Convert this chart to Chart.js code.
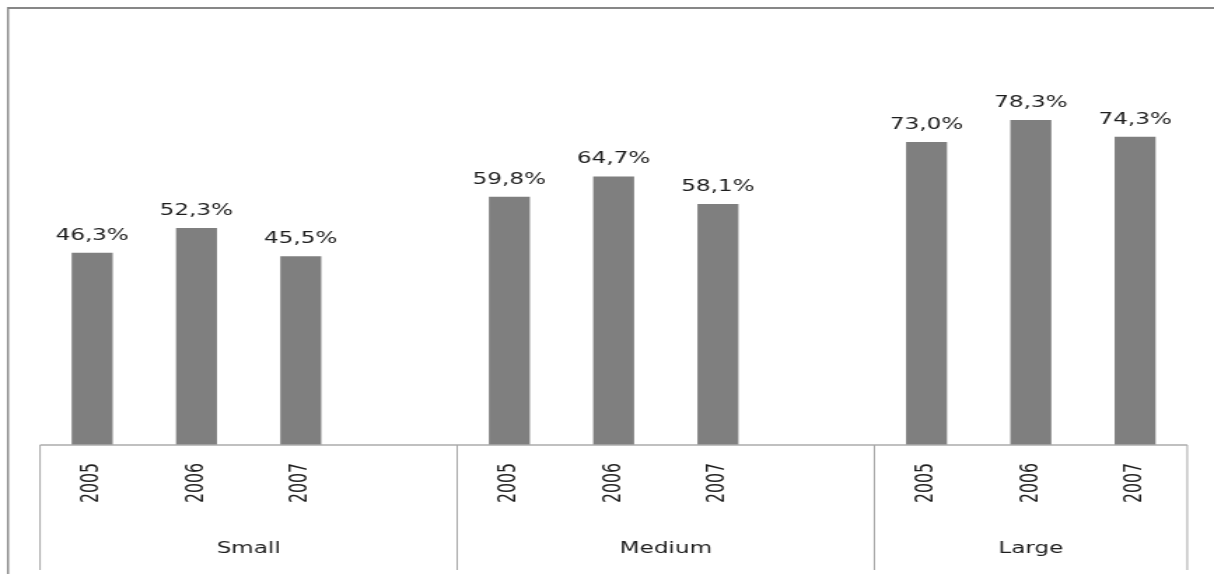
<!DOCTYPE html>
<html>
<head>
<meta charset="utf-8">
<script src="https://cdn.jsdelivr.net/npm/chart.js@4/dist/chart.umd.min.js"></script>
<style>
  html, body { margin: 0; padding: 0; background: #fff; overflow: hidden; }
</style>
</head>
<body>
<!-- the canvas is rendered narrow and widened by CSS, giving the wide lettering -->
<canvas id="c" width="867" height="574" style="display:block;width:1214px;height:574px"></canvas>
<script>
// Share of firms by size class and year (percent)
const groups = ['Small', 'Medium', 'Large'];
const years = ['2005', '2006', '2007'];
const smallShare = [46.3, 52.3, 45.5];
const mediumShare = [59.8, 64.7, 58.1];
const largeShare = [73.0, 78.3, 74.3];
const yMax = 100;

// Flatten into category slots, with an empty slot between groups
const groupValues = [smallShare, mediumShare, largeShare];
const slotLabels = [];
const slotValues = [];
const groupStart = [];
groupValues.forEach((vals, g) => {
  groupStart.push(slotLabels.length);
  years.forEach((y, i) => { slotLabels.push(y); slotValues.push(vals[i]); });
  if (g < groupValues.length - 1) { slotLabels.push(''); slotValues.push(null); }
});

const fmt = v => v.toFixed(1).replace('.', ',') + '%';

const TEXT = '#1e1e1e';
const valueFont = '16.5px "DejaVu Sans", Verdana, sans-serif';
const yearFont = '17.5px "DejaVu Sans Condensed", sans-serif';
const groupFont = '16.5px "DejaVu Sans", Verdana, sans-serif';

const decorations = {
  id: 'decorations',
  afterDatasetsDraw(chart) {
    const ctx = chart.ctx;
    const area = chart.chartArea;
    const xs = chart.scales.x;
    const n = slotLabels.length;
    const slotW = (area.right - area.left) / n;
    const axisBottom = 570;

    ctx.save();

    // outer frame (top and left edges)
    ctx.strokeStyle = '#878787';
    ctx.lineWidth = 2;
    ctx.beginPath();
    ctx.moveTo(5.7, 8);
    ctx.lineTo(chart.width, 8);
    ctx.stroke();
    ctx.lineWidth = 1.45;
    ctx.beginPath();
    ctx.moveTo(5.7, 7);
    ctx.lineTo(5.7, chart.height);
    ctx.stroke();

    // category axis line
    ctx.strokeStyle = '#ababab';
    ctx.lineWidth = 1.6;
    ctx.beginPath();
    ctx.moveTo(area.left, area.bottom);
    ctx.lineTo(area.right, area.bottom);
    ctx.stroke();

    // group separators
    ctx.lineWidth = 1;
    ctx.strokeStyle = '#a6a6a6';
    const seps = groupStart.map(s => xs.getPixelForValue(s) - slotW / 2);
    seps.push(area.right);
    seps.forEach(x => {
      ctx.beginPath();
      ctx.moveTo(x, area.bottom);
      ctx.lineTo(x, axisBottom);
      ctx.stroke();
    });

    // year labels, rotated
    ctx.fillStyle = TEXT;
    ctx.font = yearFont;
    ctx.textAlign = 'center';
    ctx.textBaseline = 'middle';
    slotLabels.forEach((lab, i) => {
      if (!lab) return;
      const x = xs.getPixelForValue(i);
      ctx.save();
      ctx.translate(x, 483);
      ctx.rotate(-Math.PI / 2);
      ctx.fillText(lab, 0, 0);
      ctx.restore();
    });

    // group labels
    ctx.font = groupFont;
    ctx.textBaseline = 'alphabetic';
    groups.forEach((g, k) => {
      const cx = (seps[k] + seps[k + 1]) / 2;
      ctx.fillText(g, cx, 553);
    });

    // value labels above bars
    ctx.font = valueFont;
    const meta = chart.getDatasetMeta(0);
    meta.data.forEach((el, i) => {
      const v = slotValues[i];
      if (v == null) return;
      ctx.fillText(fmt(v), el.x, el.y - 13);
    });

    ctx.restore();
  }
};

new Chart(document.getElementById('c'), {
  type: 'bar',
  data: {
    labels: slotLabels,
    datasets: [{
      data: slotValues,
      backgroundColor: '#7f7f7f',
      borderWidth: 0,
      barPercentage: 0.393,
      categoryPercentage: 1
    }]
  },
  options: {
    responsive: false,
    devicePixelRatio: 1,
    animation: false,
    layout: { padding: { left: 28.6, right: 19.1, top: 30, bottom: 129 } },
    plugins: { legend: { display: false }, tooltip: { enabled: false } },
    scales: {
      x: { display: false },
      y: { display: false, min: 0, max: yMax }
    }
  },
  plugins: [decorations]
});
</script>
</body>
</html>
